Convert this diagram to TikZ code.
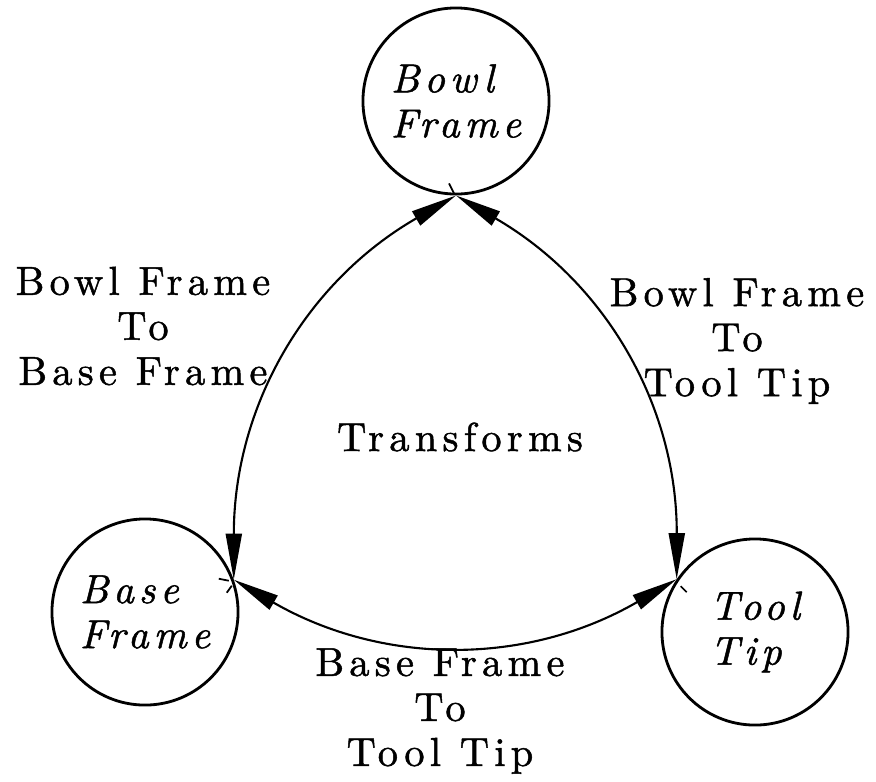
\documentclass[tikz,border=0pt]{standalone}
\usepackage{fontspec}
\usetikzlibrary{arrows.meta}
\newfontfamily\spacedfont[LetterSpace=13,FakeBold=1.2]{lmroman10-regular.otf}
\newfontfamily\spaceditfont[LetterSpace=12,FakeBold=1.2]{lmroman10-italic.otf}

\begin{document}
\begin{tikzpicture}[x=0.01cm,y=-0.01cm]
    \tikzset{
      frame/.style={circle,draw,line width=0.8pt,minimum size=1.86cm,inner sep=0pt,align=left,
        font=\spaceditfont\fontsize{11.5}{12.8}\selectfont},
      xform/.style={align=center,font=\spacedfont\fontsize{11.5}{12.8}\selectfont},
      link/.style={line width=0.6pt,{Triangle[length=4.6mm,width=1.6mm]}-{Triangle[length=4.6mm,width=1.6mm]}},
      tick/.style={line width=0.5pt}
    }
    \useasboundingbox (0,0) rectangle (876,781);
    \node[frame] (bowl) at (456,101) {Bowl\\Frame};
    \node[frame] (base) at (145,612) {Base\\Frame};
    \node[frame] (tool) at (755,632) {Tool\\Tip};
    \node[xform] (bowlbase) at (143,326) {Bowl Frame\\To\\Base Frame};
    \node[xform] (bowltool) at (737,341) {Bowl Frame\\To\\Tool Tip};
    \node[xform] (basetool) at (440,711) {Base Frame\\To\\Tool Tip};
    \node[xform] (title) at (460,437) {Transforms};
    \draw[link] (bowl.south) to[bend right=30] (base.20);
    \draw[link] (bowl.south) to[bend left=30] (tool.146);
    \draw[link] (base.20) to[bend right=30] (tool.146);
    \draw[tick] (bowl.south) ++(-7,-12) -- ++(5,10);
    \draw[tick] (base.20) ++(-15,-1) -- ++(10,2);
    \draw[tick] (base.20) ++(-7,13) -- ++(5,-7);
    \draw[tick] (tool.146) ++(4,7) -- ++(6,6);
  \end{tikzpicture}
\end{document}
